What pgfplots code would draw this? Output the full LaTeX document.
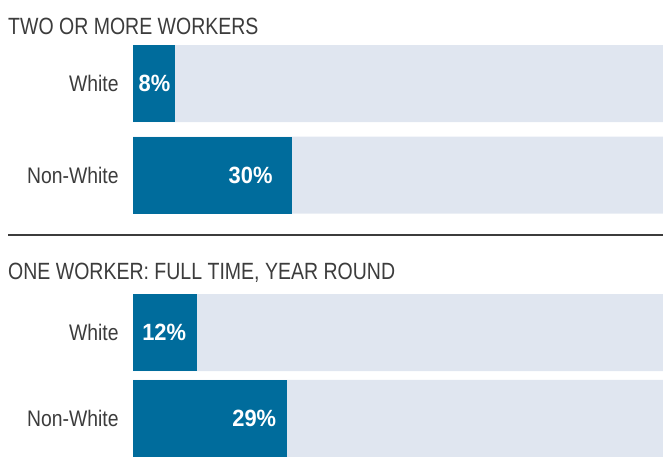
\documentclass[border=0pt]{standalone}
\usepackage{fontspec}
\setmainfont{Liberation Sans}[FakeStretch=0.86]
\newfontfamily\titlefont{Liberation Sans}[FakeStretch=0.83]
\newfontfamily\valfont{Liberation Sans}[FakeStretch=0.93]
\usepackage{pgfplots}
\pgfplotsset{compat=1.18}
\definecolor{barblue}{HTML}{006C9C}
\definecolor{bgbar}{HTML}{E0E6F0}
\definecolor{txt}{HTML}{3C3C3C}
\pgfplotsset{panel/.style={
  scale only axis, width=530pt, xmin=0, xmax=100, y dir=reverse,
  xbar, bar width=77pt, bar shift=0pt,
  axis line style={draw=none}, tick style={draw=none},
  xtick=\empty, ytick={0,1}, yticklabels={White,Non-White},
  yticklabel style={font=\fontsize{22.5}{26}\selectfont, text=txt, inner sep=0pt, xshift=-10pt},
  clip=false},
  val/.style={fill=barblue, draw=none, nodes near coords={\pgfmathprintnumber[assume math mode=true]{\pgfplotspointmeta}\%},
  nodes near coords style={anchor=east, xshift=-#1, text=white, font=\valfont\bfseries\fontsize{23.5}{26}\selectfont}}
}
\begin{document}
\begin{tikzpicture}
\path[use as bounding box] (0,0) rectangle (663pt,-471pt);
\node[anchor=base west, inner sep=0pt, text=txt, font=\titlefont\fontsize{23.5}{26}\selectfont] at (8pt,-34pt) {TWO OR MORE WORKERS};
\node[anchor=base west, inner sep=0pt, text=txt, font=\titlefont\fontsize{23.5}{26}\selectfont] at (8pt,-279pt) {ONE WORKER: FULL TIME, YEAR ROUND};
\draw[color=txt, line width=2.7pt] (8pt,-235pt) -- (663pt,-235pt);
\begin{axis}[panel, at={(133pt,-45pt)}, anchor=north west, height=168pt, ymin=-0.421, ymax=1.415]
\addplot[fill=bgbar, draw=none] coordinates {(100,0) (100,1)};
\addplot[val=0pt, nodes near coords style={anchor=center, xshift=-21pt}] coordinates {(8,0)};
\addplot[val=16pt] coordinates {(30,1)};
\end{axis}
\begin{axis}[panel, at={(133pt,-294pt)}, anchor=north west, height=163pt, ymin=-0.448, ymax=1.448]
\addplot[fill=bgbar, draw=none] coordinates {(100,0) (100,1)};
\addplot[val=7pt] coordinates {(12,0)};
\addplot[val=7pt] coordinates {(29,1)};
\end{axis}
\end{tikzpicture}
\end{document}
